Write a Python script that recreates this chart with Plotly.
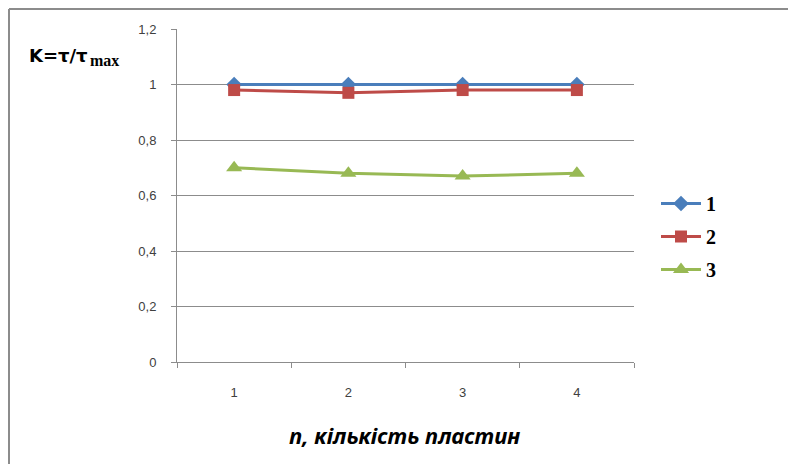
import plotly.graph_objects as go

categories = ["1", "2", "3", "4"]
series1 = [1.0, 1.0, 1.0, 1.0]
series2 = [0.98, 0.97, 0.98, 0.98]
series3 = [0.70, 0.68, 0.67, 0.68]
series_names = ["1", "2", "3"]
y_tickvals = [0, 0.2, 0.4, 0.6, 0.8, 1.0, 1.2]
y_ticktext = ["0", "0,2", "0,4", "0,6", "0,8", "1", "1,2"]

OFF = 8  # page body margin
W, H = 788, 456
L, T = 177 - OFF, 29 - OFF
pw, ph = 457, 333
R = W - L - pw
B = H - T - ph

def px(x):
    return (x - OFF - L) / pw

def py(y):
    return (T + ph - (y - OFF)) / ph

fig = go.Figure()
fig.add_trace(go.Scatter(x=categories, y=series1, name=series_names[0], mode="lines+markers",
                         line=dict(color="#4A7EBB", width=3),
                         marker=dict(symbol="diamond", size=12, color="#4A7EBB"),
                         legendgroup="a"))
fig.add_trace(go.Scatter(x=categories, y=series2, name=series_names[1], mode="lines+markers",
                         line=dict(color="#BE4B48", width=3),
                         marker=dict(symbol="square", size=12, color="#BE4B48"),
                         legendgroup="b"))
fig.add_trace(go.Scatter(x=categories, y=series3, name=series_names[2], mode="lines+markers",
                         line=dict(color="#98B954", width=3),
                         marker=dict(symbol="triangle-up", size=14, color="#98B954"),
                         legendgroup="c"))

axis_col = "#8C8C8C"
fig.update_layout(
    width=W, height=H,
    margin=dict(l=L, r=R, t=T, b=B, autoexpand=False),
    paper_bgcolor="white", plot_bgcolor="white",
    font=dict(family="Liberation Sans", size=13, color="#404040"),
    showlegend=True,
    legend=dict(x=px(656), y=py(184), xanchor="left", yanchor="top",
                font=dict(family="Liberation Serif", size=20, color="black", weight="bold"),
                tracegroupgap=4, itemwidth=40, bgcolor="rgba(0,0,0,0)"),
    xaxis=dict(type="category", range=[-0.5, 3.5], tickson="boundaries",
               ticks="outside", ticklen=5, tickcolor=axis_col,
               showline=True, linecolor=axis_col, linewidth=1,
               showgrid=False, zeroline=False, ticklabelstandoff=18,
               tickfont=dict(size=13, color="#404040")),
    yaxis=dict(range=[0, 1.2], tickvals=y_tickvals, ticktext=y_ticktext,
               ticks="outside", ticklen=5, tickcolor=axis_col,
               showline=True, linecolor=axis_col, linewidth=1,
               showgrid=True, gridcolor=axis_col, gridwidth=1,
               zeroline=False, ticklabelstandoff=12,
               tickfont=dict(size=13, color="#404040")),
)

fig.add_annotation(xref="paper", yref="paper", x=px(27), y=py(55), xanchor="left", yanchor="middle",
                   text="<b>K=τ/τ</b>", showarrow=False,
                   font=dict(family="DejaVu Sans", size=18, color="black"))
fig.add_annotation(xref="paper", yref="paper", x=px(88), y=py(60), xanchor="left", yanchor="middle",
                   text="<b>max</b>", showarrow=False,
                   font=dict(family="Liberation Serif", size=16, color="black"))
fig.add_annotation(xref="paper", yref="paper", x=px(404), y=py(435), xanchor="center", yanchor="middle",
                   text="<b><i>n, кількість пластин</i></b>",
                   showarrow=False, font=dict(family="Noto Sans", size=22, color="black"))

border = "#8C8C8C"
for x0, y0, x1, y1, w in [(9, 9, 795, 9, 2), (9, 9, 9, 470, 2), (795, 9, 795, 470, 1)]:
    fig.add_shape(type="line", xref="paper", yref="paper",
                  x0=px(x0), y0=py(y0), x1=px(x1), y1=py(y1),
                  line=dict(color=border, width=w))

fig.write_html("out.html")
